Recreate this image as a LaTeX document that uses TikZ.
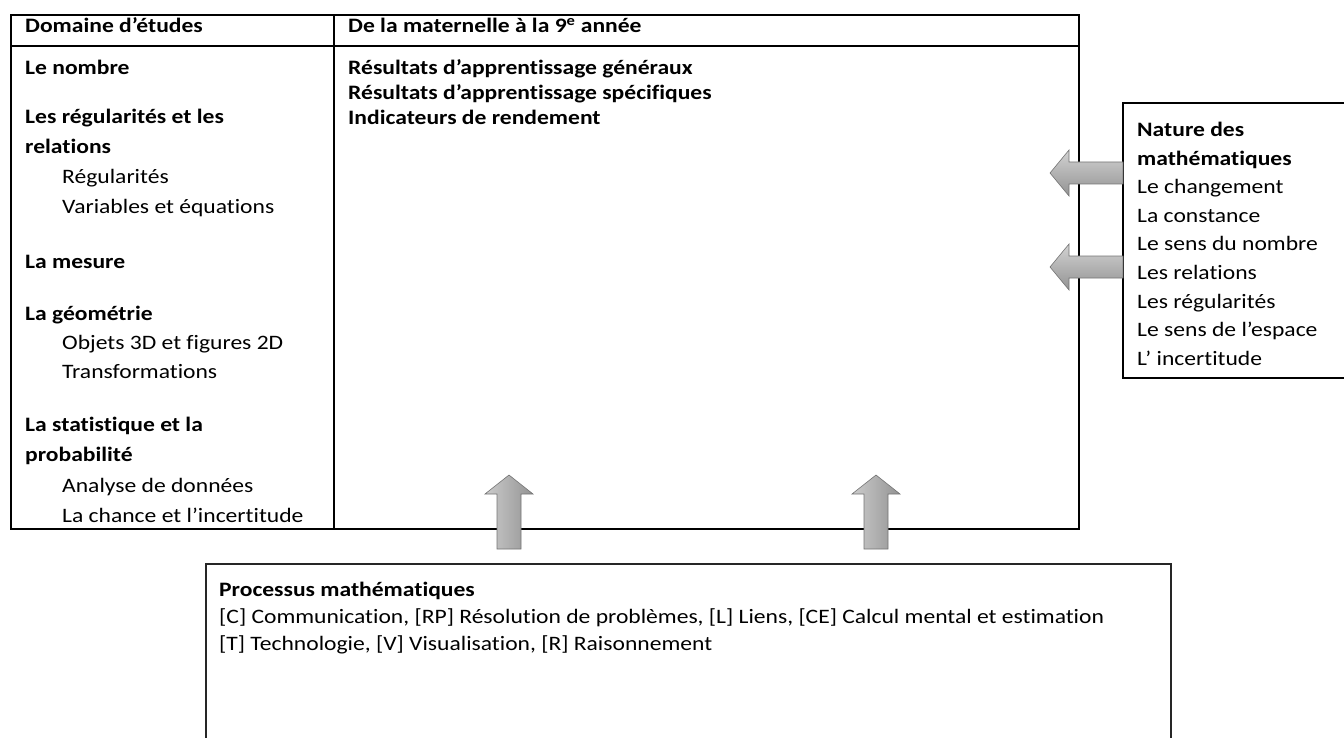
\documentclass[tikz,border=0pt]{standalone}
\usepackage{fontspec}
\setmainfont{Carlito}[FakeStretch=1.15,Ligatures={NoCommon}]
\begin{document}
\begin{tikzpicture}[x=1pt,y=-1pt,
  txt/.style={anchor=base west,inner sep=0pt,font=\fontsize{20.5}{24}\selectfont},
  btxt/.style={anchor=base west,inner sep=0pt,font=\fontsize{20.5}{24}\selectfont\bfseries},
  tableline/.style={line width=1.8pt,black},
  boxline/.style={line width=1.3pt,black},
  uparrow/.style={draw=black!55,line width=0.6pt,left color=gray!40,right color=gray!85},
  leftarrow/.style={draw=black!55,line width=0.6pt,top color=gray!35,bottom color=gray!85}]
\useasboundingbox (0,0) rectangle (1344,738);
\clip (0,0) rectangle (1344,738);
% table
\draw[tableline] (11,15) rectangle (1079,529);
\draw[tableline] (11,46) -- (1079,46);
\draw[tableline] (334,15) -- (334,529);
% header
\node[btxt] (h1) at (25,33) {Domaine d’études};
\node[btxt] (h2) at (348,33) {De la maternelle à la 9\textsuperscript{e} année};
% left column
\node[btxt] (l1) at (25,75) {Le nombre};
\node[btxt] (l2) at (25,124) {Les régularités et les};
\node[btxt] (l3) at (25,154) {relations};
\node[txt] (l4) at (62,184) {Régularités};
\node[txt] (l5) at (62,214) {Variables et équations};
\node[btxt] (l6) at (25,268) {La mesure};
\node[btxt] (l7) at (25,320) {La géométrie};
\node[txt] (l8) at (62,349) {Objets 3D et figures 2D};
\node[txt] (l9) at (62,378) {Transformations};
\node[btxt] (l10) at (25,431) {La statistique et la};
\node[btxt] (l11) at (25,461) {probabilité};
\node[txt] (l12) at (62,492) {Analyse de données};
\node[txt] (l13) at (62,522) {La chance et l’incertitude};
% right column
\node[btxt] (r1) at (348,75) {Résultats d’apprentissage généraux};
\node[btxt] (r2) at (348,100) {Résultats d’apprentissage spécifiques};
\node[btxt] (r3) at (348,125) {Indicateurs de rendement};
% Nature box
\draw[boxline] (1360,103) -- (1123,103) -- (1123,378) -- (1360,378);
\node[btxt] (n1) at (1137,137) {Nature des};
\node[btxt] (n2) at (1137,165.5) {mathématiques};
\node[txt] (n3) at (1137,194) {Le changement};
\node[txt] (n4) at (1137,222.5) {La constance};
\node[txt] (n5) at (1137,251) {Le sens du nombre};
\node[txt] (n6) at (1137,279.5) {Les relations};
\node[txt] (n7) at (1137,308) {Les régularités};
\node[txt] (n8) at (1137,336.5) {Le sens de l’espace};
\node[txt] (n9) at (1137,365) {L’ incertitude};
% Processus box
\draw[line width=1.1pt,black!85] (206,750) -- (206,564) -- (1171,564) -- (1171,750);
\node[btxt] (p1) at (219,596) {Processus mathématiques};
\node[txt] (p2) at (219,623) {[C] Communication, [RP] Résolution de problèmes, [L] Liens, [CE] Calcul mental et estimation};
\node[txt] (p3) at (219,650) {[T] Technologie, [V] Visualisation, [R] Raisonnement};
% arrows
\path[uparrow] (497,549) -- (497,494) -- (485,494) -- (509,475) -- (533,494) -- (521,494) -- (521,549) -- cycle;
\path[uparrow] (864,549) -- (864,494) -- (852,494) -- (876,475) -- (900,494) -- (888,494) -- (888,549) -- cycle;
\path[leftarrow] (1123,162) -- (1069,162) -- (1069,150) -- (1050,173) -- (1069,196) -- (1069,184) -- (1123,184) -- cycle;
\path[leftarrow] (1123,256) -- (1069,256) -- (1069,244) -- (1050,267) -- (1069,290) -- (1069,278) -- (1123,278) -- cycle;
\end{tikzpicture}
\end{document}
